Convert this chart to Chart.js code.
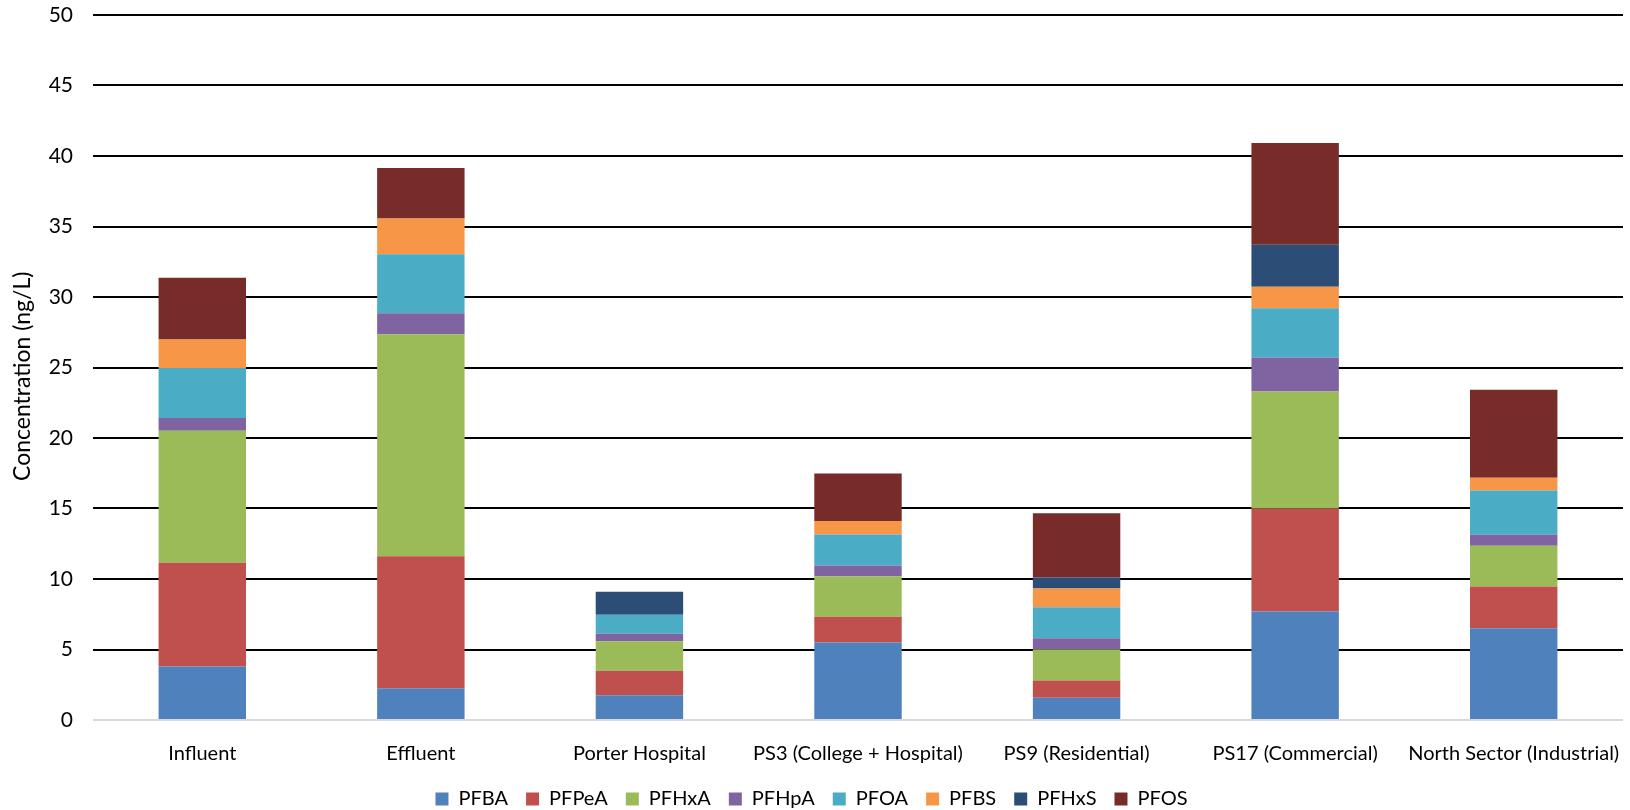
<!DOCTYPE html>
<html>
<head>
<meta charset="utf-8">
<script src="https://cdn.jsdelivr.net/npm/chart.js@4/dist/chart.umd.min.js"></script>
<style>
  html, body { margin: 0; padding: 0; background: #fff; }
  #wrap { width: 1630px; height: 810px; position: relative; }
</style>
</head>
<body>
<div id="wrap"><canvas id="c" width="1630" height="810"></canvas></div>
<script>
const categories = ["Influent", "Effluent", "Porter Hospital", "PS3 (College + Hospital)", "PS9 (Residential)", "PS17 (Commercial)", "North Sector (Industrial)"];
const PFBA  = [3.80, 2.26, 1.76, 5.50, 1.58, 7.69, 6.50];
const PFPeA = [7.36, 9.35, 1.73, 1.83, 1.22, 7.31, 2.96];
const PFHxA = [9.36, 15.75, 2.09, 2.86, 2.20, 8.29, 2.89];
const PFHpA = [0.90, 1.49, 0.54, 0.76, 0.79, 2.42, 0.78];
const PFOA  = [3.55, 4.19, 1.35, 2.20, 2.20, 3.50, 3.15];
const PFBS  = [2.01, 2.52, 0, 0.97, 1.33, 1.52, 0.90];
const PFHxS = [0, 0, 1.63, 0, 0.79, 2.97, 0];
const PFOS  = [4.39, 3.59, 0, 3.36, 4.56, 7.22, 6.25];
const seriesNames = ["PFBA", "PFPeA", "PFHxA", "PFHpA", "PFOA", "PFBS", "PFHxS", "PFOS"];
const seriesValues = [PFBA, PFPeA, PFHxA, PFHpA, PFOA, PFBS, PFHxS, PFOS];
const seriesColors = ["#4F81BD", "#C0504D", "#9BBB59", "#8064A2", "#4BACC6", "#F79646", "#2C4D75", "#772C2A"];
const yTicks = [0, 5, 10, 15, 20, 25, 30, 35, 40, 45, 50];

const FONT = "Lato, 'Open Sans', sans-serif";

const datasets = seriesNames.map((name, i) => ({
  label: name,
  data: seriesValues[i],
  backgroundColor: seriesColors[i],
  borderWidth: 0,
  barPercentage: 0.4,
  categoryPercentage: 1.0
}));

new Chart(document.getElementById('c'), {
  type: 'bar',
  data: { labels: categories, datasets },
  options: {
    responsive: false,
    animation: false,
    layout: { padding: { top: 15, right: 7, left: 0, bottom: -9 } },
    plugins: {
      legend: {
        position: 'bottom',
        labels: {
          boxWidth: 13, boxHeight: 13,
          color: '#000',
          padding: 18,
          font: { family: FONT, size: 20 }
        }
      },
      tooltip: { enabled: false }
    },
    scales: {
      x: {
        stacked: true,
        grid: { display: false },
        border: { display: false },
        ticks: { color: '#000', padding: 14, font: { family: FONT, size: 20 }, maxRotation: 0, autoSkip: false },
        afterFit: (s) => { s.height = 51; s.paddingLeft = 0; s.paddingRight = 0; }
      },
      y: {
        stacked: true,
        min: 0, max: 50,
        afterBuildTicks: (s) => { s.ticks = yTicks.map(v => ({ value: v })); },
        grid: {
          drawTicks: false,
          color: (ctx) => ctx.tick && ctx.tick.value === 0 ? '#d9d9d9' : '#000',
          lineWidth: 2
        },
        border: { display: false },
        ticks: { color: '#000', padding: 20, font: { family: FONT, size: 21 } },
        title: {
          display: true,
          text: 'Concentration (ng/L)   ',
          color: '#000',
          font: { family: FONT, size: 23 },
          padding: { top: 9, bottom: 0 }
        },
        afterFit: (s) => { s.width = 93; s.paddingTop = 0; s.paddingBottom = 0; }
      }
    }
  }
});
</script>
</body>
</html>
